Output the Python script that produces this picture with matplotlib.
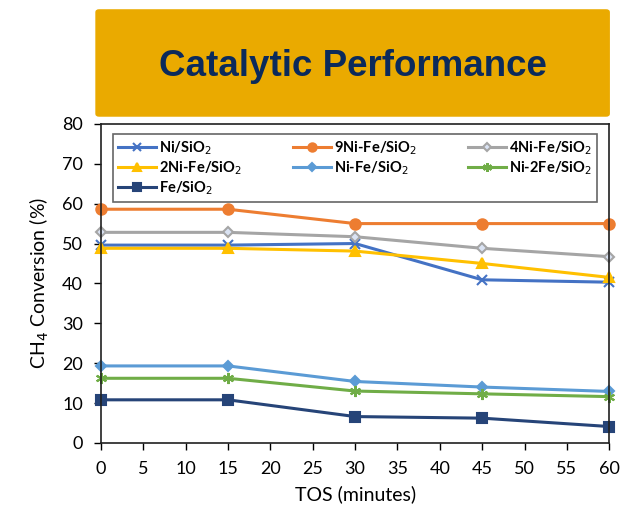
import matplotlib
matplotlib.use("Agg")
import matplotlib.pyplot as plt
from matplotlib.patches import FancyBboxPatch

tos = [0, 15, 30, 45, 60]
labels = ["Ni/SiO$_2$", "9Ni-Fe/SiO$_2$", "4Ni-Fe/SiO$_2$", "2Ni-Fe/SiO$_2$",
          "Ni-Fe/SiO$_2$", "Ni-2Fe/SiO$_2$", "Fe/SiO$_2$"]
ni = [49.6, 49.6, 50.0, 40.9, 40.3]
ni9fe = [58.6, 58.6, 55.0, 55.0, 55.0]
ni4fe = [52.8, 52.8, 51.7, 48.8, 46.7]
ni2fe = [48.8, 48.8, 48.1, 45.0, 41.5]
nife = [19.3, 19.3, 15.4, 14.0, 12.9]
nife2 = [16.2, 16.2, 13.0, 12.3, 11.6]
fe = [10.8, 10.8, 6.6, 6.2, 4.1]

series = [ni, ni9fe, ni4fe, ni2fe, nife, nife2, fe]
colors = ["#4472C4", "#ED7D31", "#A5A5A5", "#FFC000", "#5B9BD5", "#70AD47", "#264478"]
markers = ["x", "o", "D", "^", "D", (6, 2, 0), "s"]
msizes = [7, 7.5, 5.5, 7.5, 5.5, 8, 7]

plt.rcParams["font.family"] = ["Lato", "DejaVu Sans"]

fig = plt.figure(figsize=(6.23, 5.12), dpi=100)
ax = fig.add_axes([0.162, 0.135, 0.816, 0.623])

# gold title banner
banner = FancyBboxPatch((0.153, 0.772), 0.826, 0.21, boxstyle="round,pad=0,rounding_size=0.006",
                        transform=fig.transFigure, facecolor="#EAAA00", edgecolor="none")
fig.patches.append(banner)
fig.text(0.567, 0.871, "Catalytic Performance", ha="center", va="center",
         fontsize=26.5, fontweight="bold", color="#0B2A5B", family="Liberation Sans")

handles = []
for ys, c, m, ms, lab in zip(series, colors, markers, msizes, labels):
    mfc = "#DAE3F3" if lab.startswith("4Ni") else c
    h, = ax.plot(tos, ys, color=c, marker=m, markersize=ms, lw=2.2, label=lab,
                 markerfacecolor=mfc, markeredgecolor=c, markeredgewidth=1.5, clip_on=False)
    handles.append(h)

ax.set_xlim(0, 60)
ax.set_ylim(0, 80)
ax.set_xticks(range(0, 61, 5))
ax.set_yticks(range(0, 81, 10))
ax.tick_params(direction="out", length=5, width=1, labelsize=13, colors="black", pad=8)
ax.set_xlabel("TOS (minutes)", fontsize=14, labelpad=6)
ax.set_ylabel("CH$_4$ Conversion (%)", fontsize=14, labelpad=8)
for sp in ax.spines.values():
    sp.set_linewidth(1.2)
    sp.set_color("#202020")

# legend fills column-wise, so order the entries to read row by row
order = [0, 3, 6, 1, 4, 2, 5]
leg = ax.legend([handles[i] for i in order], [labels[i] for i in order],
                loc="upper center", ncol=3, bbox_to_anchor=(0.5, 0.99), frameon=True,
                fancybox=False, edgecolor="#404040", handlelength=2.6,
                handletextpad=0.2, columnspacing=3.5, labelspacing=0.15,
                borderpad=0.35, markerscale=0.8, prop={"weight": "bold", "size": 10.5})
leg.get_frame().set_linewidth(1.2)

fig.savefig("out.png", dpi=100)
